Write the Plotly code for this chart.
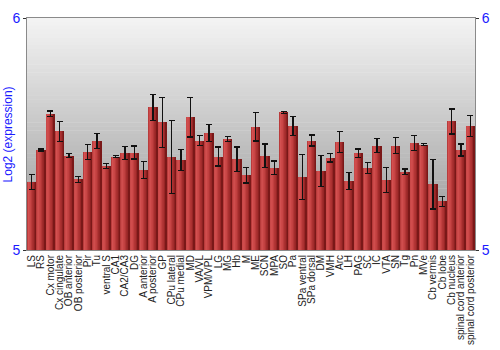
import plotly.graph_objects as go

categories = ["LS", "RS", "Cx motor", "Cx cingulate", "OB anterior", "OB posterior", "Pir", "Tu",
              "ventral S", "CA1", "CA2/CA3", "DG", "A anterior", "A posterior", "GP", "CPu lateral",
              "CPu medial", "MD", "VA/VL", "VPM/VPL", "LG", "MG", "Hb", "M", "ME", "SCN", "MPA",
              "SO", "Pa", "SPa ventral", "SPa dorsal", "DM", "VMH", "Arc", "LH", "PAG", "SC", "IC",
              "VTA", "SN", "Tg", "Pn", "MVe", "Cb vermis", "Cb lobe", "Cb nucleus",
              "spinal cord anterior", "spinal cord posterior"]

values = [5.293, 5.431, 5.587, 5.511, 5.407, 5.304, 5.422, 5.471,
          5.362, 5.402, 5.417, 5.420, 5.345, 5.615, 5.550, 5.402,
          5.388, 5.572, 5.472, 5.503, 5.403, 5.479, 5.392, 5.322, 5.532, 5.407, 5.355,
          5.593, 5.533, 5.315, 5.472, 5.341, 5.398, 5.466, 5.298, 5.417, 5.354, 5.450,
          5.301, 5.450, 5.337, 5.460, 5.454, 5.284, 5.210, 5.554,
          5.431, 5.534]

errors = [0.033, 0.004, 0.012, 0.043, 0.009, 0.012, 0.032, 0.032,
          0.012, 0.004, 0.028, 0.028, 0.038, 0.056, 0.109, 0.157,
          0.045, 0.085, 0.020, 0.037, 0.041, 0.010, 0.052, 0.033, 0.062, 0.050, 0.029,
          0.005, 0.041, 0.098, 0.024, 0.068, 0.019, 0.046, 0.036, 0.018, 0.024, 0.030,
          0.054, 0.035, 0.012, 0.032, 0.005, 0.107, 0.021, 0.054,
          0.026, 0.046]

y_range = [5, 6]
y_ticks = [5, 6]
y_title = "Log2 (expression)"

BLUE = "#1a1aff"
FONT = "Liberation Sans, Arial, sans-serif"

fig = go.Figure()

# horizontal red gradient per bar, built from narrow overlaid strips
stops = [(0.0, (176, 52, 52)), (0.15, (212, 82, 82)), (0.35, (204, 72, 72)),
         (0.7, (170, 48, 48)), (0.9, (140, 32, 32)), (1.0, (112, 20, 20))]

def lerp_color(t):
    for (t0, c0), (t1, c1) in zip(stops[:-1], stops[1:]):
        if t0 <= t <= t1:
            f = (t - t0) / (t1 - t0) if t1 > t0 else 0
            return "rgb(%d,%d,%d)" % tuple(round(a + (b - a) * f) for a, b in zip(c0, c1))
    return "rgb(%d,%d,%d)" % stops[-1][1]

bar_w = 0.9
n_strips = 14
sw = bar_w / n_strips
for i in range(n_strips):
    t = (i + 0.5) / n_strips
    fig.add_trace(go.Bar(
        x=categories, y=values, base=0,
        width=sw * 1.05, offset=-bar_w / 2 + i * sw,
        marker=dict(color=lerp_color(t), line=dict(width=0)),
        hoverinfo="skip", showlegend=False))

# error bars on a transparent full-width bar
fig.add_trace(go.Bar(
    x=categories, y=values, width=bar_w, offset=-bar_w / 2,
    marker=dict(color="rgba(0,0,0,0)", line=dict(width=0)),
    error_y=dict(type="data", array=errors, visible=True, color="#111111",
                 thickness=1.2, width=3),
    showlegend=False))

# invisible trace to show the right axis
fig.add_trace(go.Scatter(x=categories, y=values, yaxis="y2", mode="markers",
                         marker=dict(opacity=0), hoverinfo="skip", showlegend=False))

# vertical background gradient
n_bands = 60
top_c, bot_c = 244, 148
shapes = []
for i in range(n_bands):
    f = (i + 0.5) / n_bands
    g = round(top_c + (bot_c - top_c) * f)
    shapes.append(dict(type="rect", xref="paper", yref="paper",
                       x0=0, x1=1, y1=1 - i / n_bands, y0=1 - (i + 1) / n_bands - 0.002,
                       fillcolor="rgb(%d,%d,%d)" % (g, g, g), line=dict(width=0),
                       layer="below"))

fig.update_layout(
    width=500, height=350,
    margin=dict(l=27, r=14, t=10, b=100, pad=0),
    paper_bgcolor="white", plot_bgcolor="rgba(0,0,0,0)",
    barmode="overlay", bargap=0,
    shapes=shapes,
    font=dict(family=FONT),
    xaxis=dict(type="category", tickmode="array", tickvals=categories, ticktext=categories,
               tickangle=-90, tickfont=dict(size=10, color="#222222", family=FONT),
               showgrid=False, ticks="", showline=True, linecolor="#8a8a8a", mirror=True,
               range=[-0.5, len(categories) - 0.5], automargin=False),
    yaxis=dict(range=y_range, tickvals=y_ticks, ticks="outside", ticklen=3, tickcolor="#333333",
               tickfont=dict(size=14, color=BLUE, family=FONT), showgrid=False, zeroline=False,
               showline=True, linecolor="#8a8a8a", automargin=False),
    yaxis2=dict(range=y_range, tickvals=y_ticks, overlaying="y", side="right", ticks="outside",
                ticklen=3, tickcolor="#333333", tickfont=dict(size=14, color=BLUE, family=FONT),
                showgrid=False, zeroline=False, showline=True, linecolor="#8a8a8a"),
    annotations=[dict(text=y_title, xref="paper", yref="paper", x=-0.0414, y=0.5,
                      xanchor="center", yanchor="middle", textangle=-90, showarrow=False,
                      font=dict(size=12, color=BLUE, family=FONT))],
)

fig.write_html("out.html")
